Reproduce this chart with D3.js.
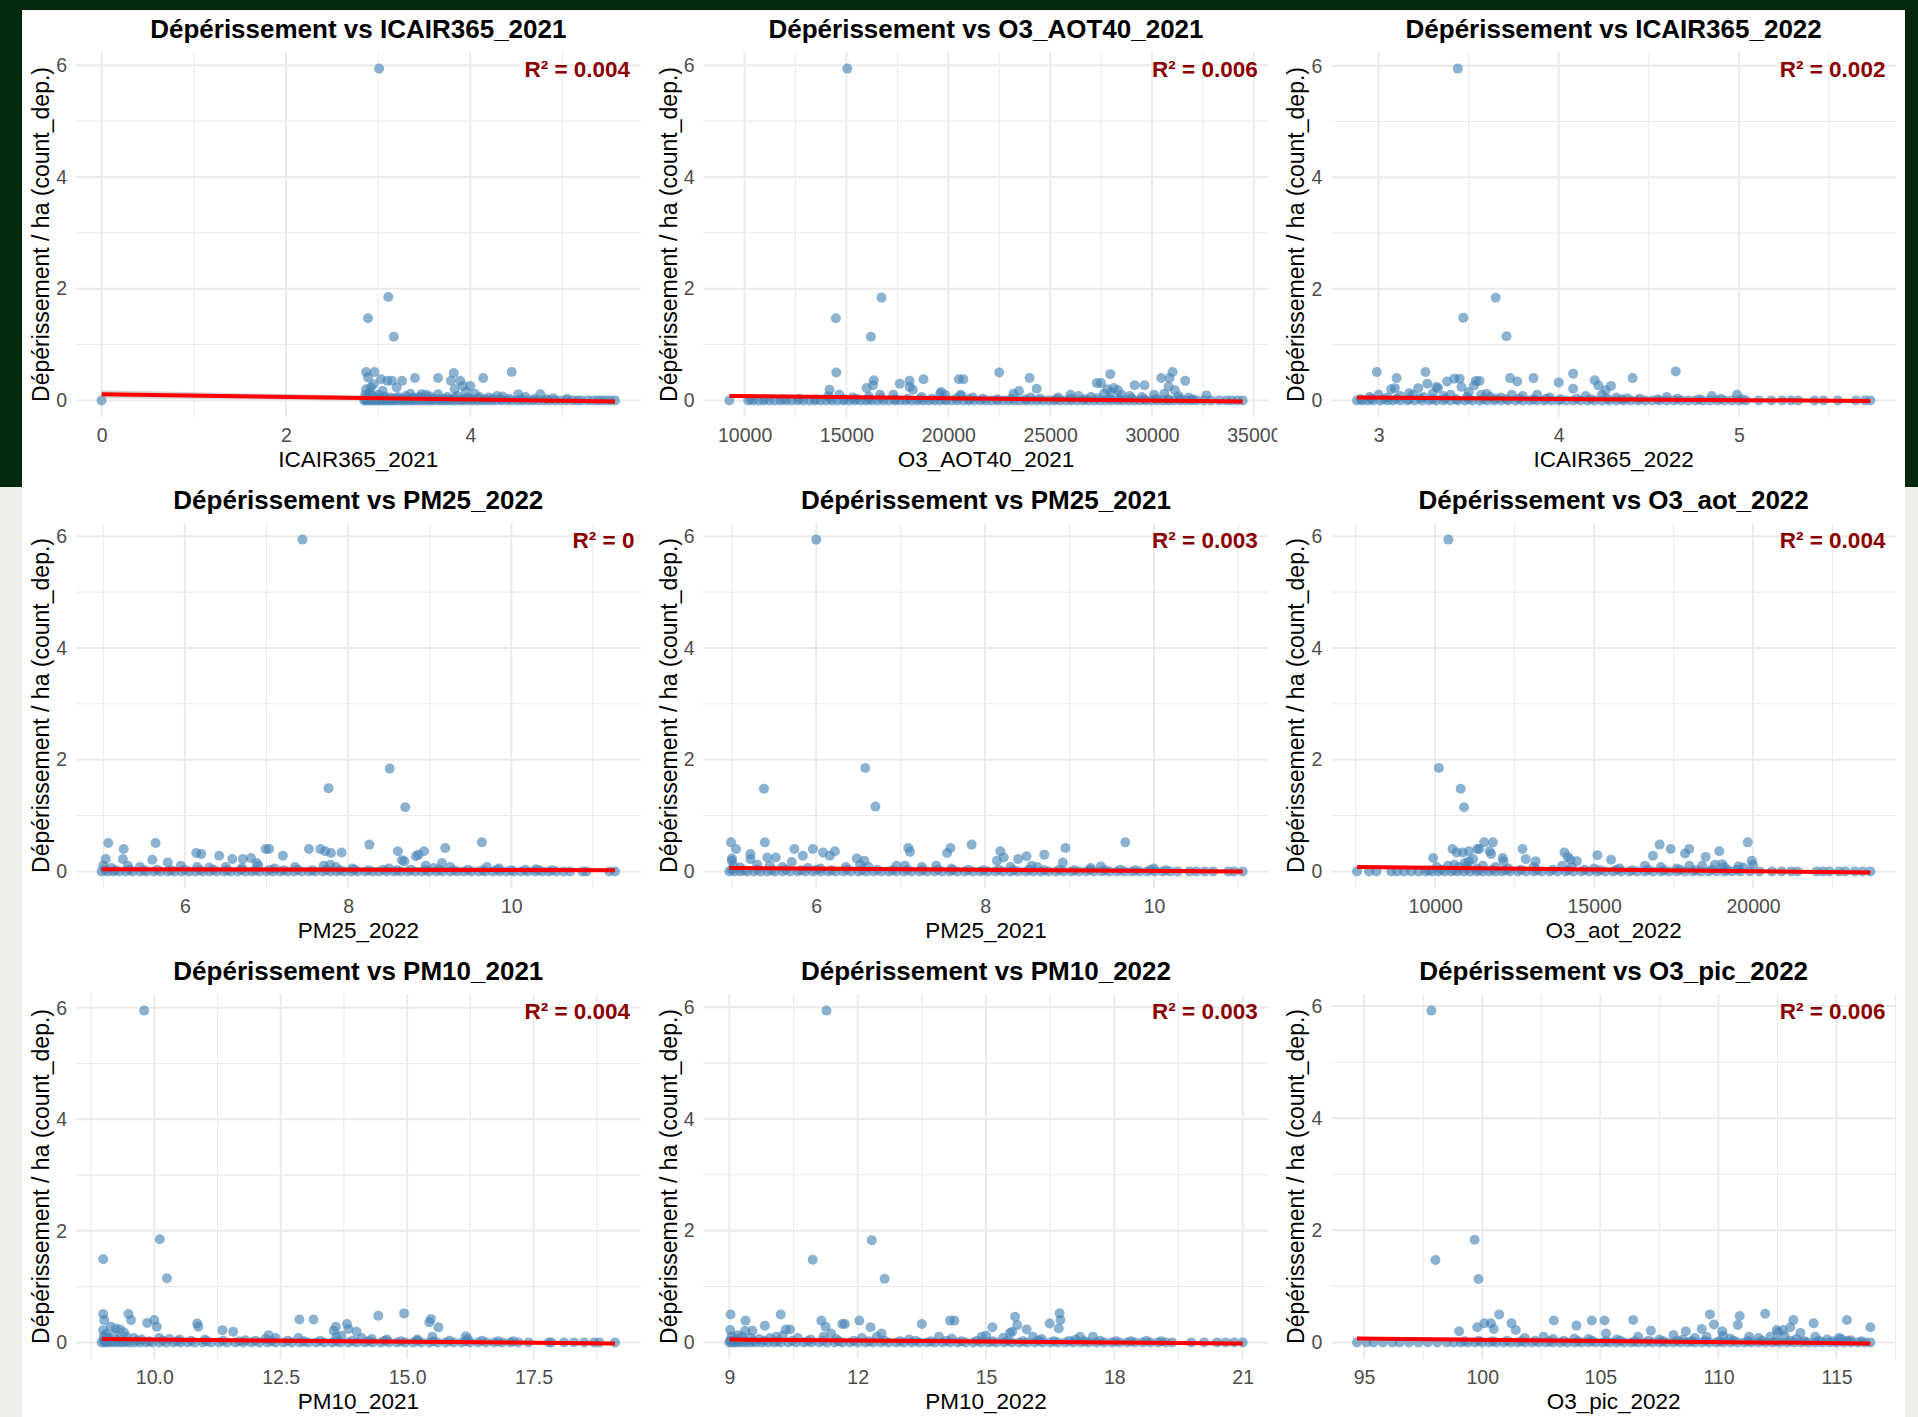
<!DOCTYPE html>
<html>
<head>
<meta charset="utf-8">
<script src="https://cdn.jsdelivr.net/npm/d3@7"></script>
<style>
  html, body { margin: 0; padding: 0; background: #f0eee9; }
  svg { display: block; }
  text { font-family: "Liberation Sans", Arial, Helvetica, sans-serif; }
</style>
</head>
<body>
<svg id="chart" width="1918" height="1417"></svg>
<script>
// ---- Panel variables (reading order, 3 x 3) ----
const variables = [
  "ICAIR365_2021", "O3_AOT40_2021", "ICAIR365_2022",
  "PM25_2022", "PM25_2021", "O3_aot_2022",
  "PM10_2021", "PM10_2022", "O3_pic_2022"
];
const r2Labels = ["0.004", "0.006", "0.002", "0", "0.003", "0.004", "0.004", "0.003", "0.006"];

const xTicks = [
  [0, 2, 4],
  [10000, 15000, 20000, 25000, 30000, 35000],
  [3, 4, 5],
  [6, 8, 10],
  [6, 8, 10],
  [10000, 15000, 20000],
  [10, 12.5, 15, 17.5],
  [9, 12, 15, 18, 21],
  [95, 100, 105, 110, 115]
];
const xTickLabels = [
  ["0", "2", "4"],
  ["10000", "15000", "20000", "25000", "30000", "35000"],
  ["3", "4", "5"],
  ["6", "8", "10"],
  ["6", "8", "10"],
  ["10000", "15000", "20000"],
  ["10.0", "12.5", "15.0", "17.5"],
  ["9", "12", "15", "18", "21"],
  ["95", "100", "105", "110", "115"]
];
const yTicks = [0, 2, 4, 6];

// Linear fit: fitted value at the lowest and highest x of each panel
const fitEnds = [
  [0.11, -0.02], [0.08, -0.02], [0.05, -0.01],
  [0.04, 0.02], [0.06, 0.0], [0.08, -0.02],
  [0.06, -0.02], [0.05, -0.02], [0.07, -0.02]
];
// Half-width of the confidence ribbon at both ends
const fitBand = [
  [0.07, 0.02], [0.03, 0.03], [0.03, 0.03],
  [0.03, 0.03], [0.03, 0.03], [0.03, 0.03],
  [0.03, 0.03], [0.03, 0.03], [0.03, 0.03]
];

// ---- Observations with count_dep > 0 : [x, dépérissement / ha] ----
const icair2021Pts = [[3.01,5.94],[3.11,1.85],[2.89,1.47],[3.17,1.14],[2.87,0.51],[2.96,0.51],[3.82,0.49],[4.45,0.51],[3.40,0.40],[3.65,0.40],[4.14,0.40],[2.89,0.41],[3.03,0.38],[3.10,0.35],[3.15,0.35],[3.26,0.35],[3.20,0.23],[3.79,0.35],[3.89,0.35],[3.92,0.26],[4.00,0.26],[3.83,0.20],[2.92,0.23],[2.91,0.14],[2.87,0.20],[3.65,0.11],[3.47,0.11],[4.29,0.08],[4.52,0.11],[4.76,0.11],[2.95,0.29],[3.05,0.17],[3.35,0.12],[3.95,0.15],[4.05,0.12],
  [2.86,0.1],[2.88,0.06],[2.93,0.08],[2.97,0.05],[3.0,0.1],[3.07,0.07],[3.13,0.05],[3.22,0.06],[3.3,0.08],[3.38,0.05],[3.45,0.06],[3.52,0.1],[3.56,0.07],[3.75,0.06],[3.86,0.08],[3.97,0.05],[4.1,0.06],[4.2,0.05],[4.35,0.07],[4.6,0.06],[4.9,0.04],[5.05,0.03]];
const aot40_2021Pts = [[15040,5.94],[16720,1.84],[14480,1.47],[16200,1.14],[14500,0.50],[22500,0.50],[31010,0.51],[27950,0.47],[18780,0.38],[20520,0.38],[20740,0.38],[23990,0.40],[30450,0.40],[30860,0.40],[31630,0.35],[16340,0.36],[16300,0.27],[17620,0.30],[18100,0.35],[18100,0.24],[18260,0.19],[14170,0.19],[15990,0.22],[24340,0.21],[23470,0.17],[27290,0.31],[27500,0.31],[29150,0.27],[29630,0.27],[30810,0.25],[31120,0.18],[27810,0.20],[28120,0.22],[28330,0.18],[32670,0.09],[19650,0.15],[20600,0.1],[23200,0.12],
  [14100,0.08],[14650,0.1],[15300,0.05],[16100,0.07],[16650,0.1],[17300,0.1],[18700,0.06],[19600,0.12],[19850,0.1],[20650,0.08],[21200,0.05],[24050,0.05],[25400,0.05],[26000,0.1],[26400,0.08],[27000,0.06],[27650,0.12],[28000,0.14],[28500,0.1],[28900,0.08],[29500,0.06],[30100,0.1],[30600,0.12],[31300,0.08],[31800,0.05]];
const icair2022Pts = [[3.44,5.95],[3.65,1.84],[3.47,1.48],[3.71,1.15],[2.99,0.51],[3.26,0.51],[4.65,0.52],[4.08,0.48],[3.10,0.40],[3.42,0.39],[3.45,0.39],[3.73,0.40],[3.86,0.40],[4.41,0.40],[4.00,0.32],[3.77,0.34],[3.54,0.35],[3.56,0.35],[3.38,0.34],[4.20,0.36],[4.22,0.27],[4.29,0.26],[3.27,0.30],[3.32,0.24],[3.33,0.22],[3.07,0.20],[3.09,0.22],[3.22,0.22],[4.08,0.21],[3.53,0.27],[3.46,0.24],[3.17,0.13],[4.26,0.18],[3.50,0.15],[3.60,0.12],
  [2.95,0.06],[3.0,0.1],[3.05,0.05],[3.12,0.08],[3.19,0.1],[3.25,0.06],[3.3,0.12],[3.36,0.08],[3.4,0.1],[3.49,0.06],[3.57,0.1],[3.62,0.06],[3.68,0.05],[3.74,0.1],[3.8,0.08],[3.88,0.1],[3.95,0.05],[4.15,0.08],[4.24,0.1],[4.32,0.05],[4.38,0.04],[4.6,0.06],[4.85,0.08],[4.99,0.1]];
const pm25_2022Pts = [[7.44,5.94],[8.51,1.84],[7.76,1.49],[8.70,1.15],[5.06,0.51],[5.64,0.51],[9.64,0.52],[8.26,0.48],[5.25,0.40],[6.99,0.40],[7.03,0.40],[7.52,0.40],[7.66,0.40],[9.19,0.42],[7.72,0.36],[7.79,0.33],[7.92,0.34],[8.61,0.36],[8.93,0.36],[8.86,0.30],[8.83,0.27],[6.14,0.33],[6.20,0.31],[6.42,0.28],[7.20,0.28],[6.58,0.22],[6.71,0.22],[6.81,0.24],[5.03,0.22],[5.24,0.22],[5.60,0.21],[5.79,0.16],[8.66,0.20],[8.69,0.18],[9.15,0.15],[6.88,0.15],
  [5.0,0.1],[5.1,0.06],[5.3,0.1],[5.45,0.08],[5.95,0.1],[6.15,0.08],[6.3,0.07],[6.5,0.08],[6.7,0.06],[6.9,0.1],[7.1,0.05],[7.35,0.08],[7.7,0.1],[7.78,0.12],[7.85,0.08],[8.05,0.05],[8.5,0.05],[8.95,0.1],[9.05,0.06],[9.25,0.08],[9.7,0.08],[9.85,0.05],[10.3,0.04]];
const pm25_2021Pts = [[6.00,5.94],[6.58,1.85],[5.38,1.48],[6.70,1.16],[4.99,0.52],[5.39,0.52],[9.66,0.52],[7.84,0.48],[5.05,0.40],[5.74,0.40],[5.96,0.40],[7.09,0.42],[7.11,0.35],[7.59,0.42],[7.55,0.33],[8.95,0.42],[8.18,0.36],[8.22,0.25],[6.08,0.34],[6.22,0.36],[6.16,0.28],[5.22,0.31],[5.22,0.22],[5.42,0.25],[5.52,0.25],[5.84,0.28],[8.70,0.30],[8.49,0.27],[8.39,0.22],[8.14,0.19],[6.48,0.23],[6.57,0.19],[5.71,0.17],[5.00,0.23],[5.00,0.19],[8.92,0.16],
  [5.02,0.1],[5.1,0.07],[5.3,0.12],[5.45,0.1],[5.6,0.08],[5.9,0.06],[6.05,0.05],[6.35,0.08],[6.52,0.12],[6.62,0.08],[6.95,0.1],[7.05,0.1],[7.25,0.08],[7.42,0.1],[7.6,0.05],[8.3,0.08],[8.55,0.1],[8.62,0.08],[9.25,0.06],[9.37,0.09],[10.0,0.05]];
const aot2022Pts = [[10415,5.94],[10117,1.85],[10803,1.48],[10907,1.15],[11541,0.52],[11813,0.52],[19832,0.52],[17060,0.48],[10544,0.40],[12746,0.40],[17409,0.40],[17992,0.40],[11321,0.40],[11386,0.40],[18938,0.36],[14067,0.34],[17863,0.32],[10674,0.34],[10868,0.34],[11062,0.36],[11710,0.36],[11760,0.31],[15104,0.29],[16852,0.28],[18510,0.26],[9935,0.24],[12850,0.22],[12124,0.24],[12150,0.18],[14170,0.26],[14260,0.21],[14456,0.18],[15531,0.21],[13161,0.18],[19960,0.19],[11192,0.22],[11062,0.18],[10933,0.15],[19028,0.13],[19546,0.09],
  [10050,0.08],[10400,0.1],[10600,0.12],[10750,0.08],[11000,0.1],[11300,0.05],[11500,0.1],[11900,0.08],[12300,0.05],[13100,0.08],[14000,0.1],[14300,0.08],[15000,0.05],[15800,0.05],[16600,0.1],[17100,0.08],[17600,0.05],[18000,0.1],[18400,0.1],[18800,0.12],[19100,0.08],[19700,0.07],[20000,0.12]];
const pm10_2021Pts = [[9.80,5.95],[10.11,1.85],[8.99,1.49],[10.25,1.15],[8.99,0.51],[9.49,0.51],[14.94,0.52],[14.43,0.48],[12.87,0.41],[13.15,0.41],[15.47,0.42],[15.44,0.36],[9.01,0.40],[9.54,0.40],[10.00,0.40],[9.86,0.35],[13.81,0.33],[13.84,0.24],[13.59,0.28],[15.62,0.27],[10.85,0.34],[10.87,0.28],[10.05,0.28],[9.14,0.28],[9.24,0.25],[9.32,0.23],[11.35,0.22],[11.56,0.19],[14.00,0.19],[13.55,0.21],[8.99,0.22],[12.26,0.13],[16.16,0.11],[9.05,0.15],[9.4,0.18],
  [9.0,0.1],[9.1,0.08],[9.2,0.12],[9.3,0.06],[9.45,0.1],[9.6,0.08],[9.75,0.05],[10.1,0.08],[10.3,0.06],[10.5,0.05],[11.0,0.05],[11.8,0.04],[12.2,0.06],[12.4,0.08],[12.85,0.08],[13.6,0.1],[13.7,0.12],[14.1,0.08],[14.3,0.06],[14.6,0.05],[15.2,0.05],[15.5,0.1],[16.2,0.06]];
const pm10_2022Pts = [[11.27,5.94],[12.33,1.83],[10.95,1.48],[12.63,1.14],[9.03,0.50],[10.20,0.50],[16.72,0.52],[15.68,0.46],[9.38,0.39],[11.15,0.39],[12.04,0.39],[14.16,0.39],[14.26,0.39],[16.74,0.40],[16.49,0.34],[13.50,0.33],[11.64,0.33],[11.70,0.33],[9.83,0.30],[11.25,0.28],[12.30,0.27],[15.15,0.27],[15.73,0.31],[16.70,0.25],[9.02,0.22],[9.37,0.21],[9.54,0.21],[10.32,0.23],[10.42,0.23],[11.38,0.16],[12.56,0.16],[15.56,0.17],[15.61,0.19],[15.95,0.23],[9.20,0.13],
  [9.05,0.1],[9.15,0.06],[9.3,0.1],[9.5,0.08],[9.7,0.06],[9.95,0.08],[10.1,0.1],[10.25,0.12],[10.6,0.08],[10.9,0.05],[11.2,0.1],[11.5,0.06],[12.1,0.08],[12.45,0.1],[13.2,0.05],[13.9,0.1],[14.2,0.07],[14.9,0.1],[15.0,0.12],[15.4,0.08],[16.1,0.1],[16.3,0.06],[17.2,0.1],[17.5,0.1],[17.1,0.05]];
const o3pic2022Pts = [[97.85,5.92],[99.68,1.83],[98.02,1.47],[99.84,1.13],[100.72,0.50],[109.64,0.50],[111.98,0.51],[110.90,0.47],[103.03,0.39],[104.64,0.39],[105.18,0.39],[106.39,0.40],[113.17,0.40],[115.44,0.40],[100.09,0.34],[100.37,0.34],[101.24,0.34],[114.03,0.34],[109.81,0.32],[99.79,0.27],[100.49,0.24],[101.42,0.22],[103.99,0.30],[110.82,0.31],[112.73,0.22],[112.52,0.18],[113.04,0.27],[116.43,0.27],[109.29,0.24],[107.14,0.21],[99.02,0.20],[108.62,0.20],[110.16,0.20],[105.24,0.16],[113.47,0.17],[108.10,0.13],[112.47,0.22],
  [101.8,0.08],[102.6,0.1],[103.0,0.06],[103.9,0.07],[104.5,0.06],[105.7,0.05],[106.6,0.1],[107.5,0.05],[108.5,0.05],[109.0,0.08],[109.5,0.1],[110.2,0.12],[110.5,0.07],[111.3,0.1],[111.7,0.08],[112.2,0.1],[112.8,0.12],[113.3,0.06],[114.1,0.1],[114.6,0.05],[115.1,0.08],[115.2,0.06],[115.6,0.04]];

// ---- Observations barely above zero (dense band) : [x, y] ----
const icair2021Near = [[2.86,0.02],[2.89,0.03],[2.94,0.02],[2.99,0.04],[3.04,0.02],[3.08,0.03],[3.14,0.02],[3.19,0.04],[3.24,0.02],[3.29,0.03],[3.34,0.02],[3.39,0.03],[3.44,0.02],[3.49,0.04],[3.55,0.02],[3.6,0.03],[3.66,0.02],[3.72,0.03],[3.78,0.02],[3.83,0.04],[3.9,0.02],[3.96,0.03],[4.02,0.02],[4.09,0.03],[4.16,0.02],[4.25,0.03],[4.33,0.02],[4.42,0.03],[4.55,0.02],[4.7,0.03],[4.83,0.02]];
const aot40_2021Near = [[10300,0.02],[11000,0.03],[11900,0.02],[12700,0.03],[13500,0.02],[14200,0.04],[14900,0.02],[15500,0.03],[16100,0.02],[16700,0.04],[17400,0.02],[18000,0.03],[18600,0.02],[19200,0.03],[19800,0.02],[20400,0.04],[21000,0.02],[21700,0.03],[22400,0.02],[23100,0.03],[23800,0.02],[24500,0.03],[25300,0.02],[26000,0.03],[26700,0.02],[27300,0.04],[27900,0.03],[28400,0.02],[29000,0.04],[29600,0.02],[30200,0.03],[30800,0.02],[31400,0.03],[32000,0.02]];
const icair2022Near = [[2.9,0.02],[2.96,0.03],[3.03,0.02],[3.1,0.03],[3.17,0.02],[3.23,0.04],[3.3,0.02],[3.37,0.03],[3.43,0.02],[3.5,0.03],[3.58,0.02],[3.65,0.03],[3.71,0.02],[3.78,0.03],[3.86,0.02],[3.93,0.03],[4.01,0.02],[4.1,0.03],[4.18,0.02],[4.27,0.03],[4.35,0.02],[4.45,0.03],[4.55,0.02],[4.66,0.03],[4.78,0.02],[4.9,0.03],[5.02,0.02]];
const pm25_2022Near = [[5.02,0.03],[5.15,0.02],[5.32,0.03],[5.5,0.02],[5.66,0.03],[5.83,0.02],[6.0,0.03],[6.18,0.02],[6.35,0.03],[6.52,0.02],[6.69,0.03],[6.86,0.02],[7.04,0.03],[7.21,0.02],[7.38,0.03],[7.56,0.02],[7.73,0.03],[7.9,0.02],[8.08,0.03],[8.25,0.02],[8.43,0.03],[8.6,0.02],[8.77,0.03],[8.95,0.02],[9.12,0.03],[9.3,0.02],[9.47,0.03],[9.65,0.02],[9.82,0.03],[10.0,0.02],[10.17,0.03],[10.34,0.02],[10.5,0.02]];
const pm25_2021Near = [[5.0,0.03],[5.14,0.02],[5.3,0.03],[5.47,0.02],[5.64,0.03],[5.82,0.02],[6.0,0.03],[6.18,0.02],[6.36,0.03],[6.54,0.02],[6.72,0.03],[6.9,0.02],[7.08,0.03],[7.26,0.02],[7.44,0.03],[7.62,0.02],[7.8,0.03],[7.98,0.02],[8.16,0.03],[8.34,0.02],[8.52,0.03],[8.7,0.02],[8.88,0.03],[9.06,0.02],[9.24,0.03],[9.42,0.02],[9.6,0.03],[9.78,0.02],[9.96,0.03],[10.14,0.02]];
const aot2022Near = [[9800,0.02],[10200,0.03],[10600,0.02],[11000,0.04],[11400,0.02],[11800,0.03],[12200,0.02],[12700,0.03],[13200,0.02],[13700,0.03],[14200,0.02],[14700,0.03],[15200,0.02],[15700,0.03],[16200,0.02],[16700,0.03],[17200,0.02],[17700,0.03],[18200,0.02],[18700,0.03],[19200,0.02],[19500,0.03]];
const pm10_2021Near = [[9.0,0.03],[9.12,0.02],[9.28,0.03],[9.45,0.02],[9.66,0.03],[9.9,0.02],[10.17,0.03],[10.45,0.02],[10.73,0.03],[11.04,0.02],[11.36,0.03],[11.68,0.02],[12.0,0.03],[12.32,0.02],[12.64,0.03],[12.96,0.02],[13.28,0.03],[13.6,0.02],[13.92,0.03],[14.24,0.02],[14.56,0.03],[14.88,0.02],[15.2,0.03],[15.52,0.02],[15.84,0.03],[16.16,0.02],[16.48,0.03],[16.8,0.02],[17.1,0.02]];
const pm10_2022Near = [[9.02,0.03],[9.17,0.02],[9.35,0.03],[9.56,0.02],[9.82,0.03],[10.12,0.02],[10.47,0.03],[10.83,0.02],[11.19,0.03],[11.55,0.02],[11.91,0.03],[12.27,0.02],[12.63,0.03],[12.99,0.02],[13.35,0.03],[13.71,0.02],[14.07,0.03],[14.43,0.02],[14.79,0.03],[15.15,0.02],[15.51,0.03],[15.87,0.02],[16.23,0.03],[16.59,0.02],[16.95,0.03],[17.31,0.02],[17.67,0.03],[18.03,0.02],[18.39,0.02],[18.75,0.03],[19.1,0.02]];
const o3pic2022Near = [[99.25,0.02],[99.85,0.03],[100.45,0.02],[101.05,0.03],[101.65,0.02],[102.25,0.03],[102.85,0.02],[103.45,0.03],[104.05,0.02],[104.65,0.03],[105.25,0.02],[105.85,0.03],[106.45,0.02],[107.05,0.03],[107.65,0.02],[108.25,0.03],[108.85,0.02],[109.45,0.03],[110.05,0.02],[110.65,0.03],[111.25,0.02],[111.85,0.03],[112.45,0.02],[113.05,0.03],[113.65,0.02],[114.25,0.03],[114.85,0.02],[115.45,0.03],[116.05,0.02]];

// ---- Observations with no dieback (y = 0): x values only ----
const icair2021Zero = [0,2.85,2.87,2.9,2.92,2.95,2.98,3.0,3.03,3.06,3.09,3.12,3.15,3.18,3.21,3.25,3.28,3.31,3.35,3.38,3.42,3.46,3.5,3.54,3.58,3.62,3.67,3.71,3.75,3.8,3.84,3.89,3.93,3.98,4.03,4.08,4.13,4.18,4.23,4.28,4.34,4.4,4.45,4.51,4.57,4.63,4.68,4.74,4.8,4.86,4.92,4.98,5.04,5.11,5.16,5.2,5.27,5.33,5.38,5.42,5.47,5.52,5.57];
const aot40_2021Zero = [9250,10180,10420,10690,10930,11210,11480,11760,12050,12310,12600,12880,13170,13430,13720,14000,14290,14560,14850,15130,15400,15690,15950,16240,16520,16810,17080,17370,17640,17920,18210,18480,18770,19040,19330,19600,19890,20170,20440,20730,21010,21280,21570,21850,22120,22410,22690,22960,23250,23520,23810,24090,24360,24650,24930,25200,25490,25770,26040,26330,26610,26880,27170,27450,27720,28010,28290,28560,28850,29130,29400,29690,29970,30240,30530,30810,31080,31370,31650,31920,32200,32550,32900,33300,33650,33900,34200,34450];
const icair2022Zero = [2.88,2.91,2.94,2.97,3.01,3.05,3.08,3.12,3.16,3.2,3.24,3.28,3.32,3.36,3.4,3.44,3.48,3.52,3.56,3.6,3.64,3.68,3.72,3.76,3.8,3.84,3.88,3.92,3.96,4.0,4.04,4.08,4.12,4.16,4.2,4.24,4.28,4.32,4.36,4.4,4.44,4.48,4.52,4.56,4.6,4.64,4.68,4.72,4.76,4.8,4.84,4.88,4.92,4.96,5.0,5.04,5.11,5.18,5.24,5.29,5.33,5.42,5.47,5.55,5.65,5.7,5.73];
const pm25_2022Zero = [4.98,5.05,5.12,5.2,5.28,5.36,5.45,5.53,5.62,5.7,5.79,5.87,5.96,6.05,6.13,6.22,6.3,6.39,6.48,6.56,6.65,6.74,6.82,6.91,7.0,7.08,7.17,7.26,7.34,7.43,7.52,7.6,7.69,7.78,7.86,7.95,8.04,8.12,8.21,8.3,8.38,8.47,8.56,8.64,8.73,8.82,8.9,8.99,9.08,9.16,9.25,9.34,9.42,9.51,9.6,9.68,9.77,9.86,9.94,10.03,10.12,10.2,10.29,10.38,10.46,10.55,10.64,10.72,10.87,10.92,11.2,11.27];
const pm25_2021Zero = [4.97,5.03,5.1,5.18,5.26,5.34,5.42,5.51,5.6,5.69,5.78,5.87,5.96,6.05,6.14,6.23,6.32,6.41,6.5,6.59,6.68,6.77,6.86,6.95,7.04,7.13,7.22,7.31,7.4,7.49,7.58,7.67,7.76,7.85,7.94,8.03,8.12,8.21,8.3,8.39,8.48,8.57,8.66,8.75,8.84,8.93,9.02,9.11,9.2,9.29,9.38,9.47,9.56,9.65,9.74,9.83,9.92,10.01,10.1,10.19,10.28,10.42,10.5,10.6,10.7,10.88,10.95,11.05];
const aot2022Zero = [7540,7920,8150,8620,8800,9020,9250,9480,9700,9900,10100,10300,10500,10700,10900,11100,11300,11500,11700,11900,12100,12350,12600,12850,13100,13350,13600,13850,14100,14350,14600,14850,15100,15350,15600,15850,16100,16350,16600,16850,17100,17350,17600,17850,18100,18350,18600,18850,19100,19350,19600,19900,20200,20600,20900,21200,21400,22000,22200,22400,22700,22900,23200,23450,23690];
const pm10_2021Zero = [8.96,9.02,9.08,9.16,9.24,9.32,9.4,9.5,9.6,9.72,9.84,9.96,10.1,10.24,10.38,10.52,10.66,10.8,10.96,11.12,11.28,11.44,11.6,11.76,11.92,12.08,12.24,12.4,12.56,12.72,12.88,13.04,13.2,13.36,13.52,13.68,13.84,14.0,14.16,14.32,14.48,14.64,14.8,14.96,15.12,15.28,15.44,15.6,15.76,15.92,16.08,16.24,16.4,16.56,16.72,16.88,17.04,17.2,17.4,17.8,17.85,18.1,18.3,18.5,18.7,18.8,19.11];
const pm10_2022Zero = [9.0,9.06,9.13,9.21,9.3,9.4,9.5,9.62,9.75,9.9,10.05,10.2,10.38,10.56,10.74,10.92,11.1,11.28,11.46,11.64,11.82,12.0,12.18,12.36,12.54,12.72,12.9,13.08,13.26,13.44,13.62,13.8,13.98,14.16,14.34,14.52,14.7,14.88,15.06,15.24,15.42,15.6,15.78,15.96,16.14,16.32,16.5,16.68,16.86,17.04,17.22,17.4,17.58,17.76,17.94,18.12,18.3,18.48,18.66,18.84,19.02,19.2,19.35,19.8,20.1,20.4,20.6,20.8,21.0];
const o3pic2022Zero = [94.7,95.1,95.4,95.8,96.2,96.5,96.9,97.3,97.7,98.1,98.5,98.8,99.1,99.4,99.7,100.0,100.3,100.6,100.9,101.2,101.5,101.8,102.1,102.4,102.7,103.0,103.3,103.6,103.9,104.2,104.5,104.8,105.1,105.4,105.7,106.0,106.3,106.6,106.9,107.2,107.5,107.8,108.1,108.4,108.7,109.0,109.3,109.6,109.9,110.2,110.5,110.8,111.1,111.4,111.7,112.0,112.3,112.6,112.9,113.2,113.5,113.8,114.1,114.4,114.7,115.0,115.3,115.6,115.9,116.2,116.43];

const pointsByPanel = [icair2021Pts, aot40_2021Pts, icair2022Pts, pm25_2022Pts, pm25_2021Pts, aot2022Pts, pm10_2021Pts, pm10_2022Pts, o3pic2022Pts];
const nearByPanel = [icair2021Near, aot40_2021Near, icair2022Near, pm25_2022Near, pm25_2021Near, aot2022Near, pm10_2021Near, pm10_2022Near, o3pic2022Near];
const zerosByPanel = [icair2021Zero, aot40_2021Zero, icair2022Zero, pm25_2022Zero, pm25_2021Zero, aot2022Zero, pm10_2021Zero, pm10_2022Zero, o3pic2022Zero];

// ---- Layout ----
const W = 1918, H = 1417;
const svg = d3.select("#chart");

svg.append("rect").attr("x", 0).attr("y", 0).attr("width", W).attr("height", 487).attr("fill", "#01290a");

const fig = { x: 22, y: 10, w: 1883, h: 1413 };
svg.append("rect").attr("x", fig.x).attr("y", fig.y).attr("width", fig.w).attr("height", H - fig.y).attr("fill", "#ffffff");

const cellW = fig.w / 3, cellH = 471;
const defs = svg.append("defs");

const expand = (ext) => { const p = (ext[1] - ext[0]) * 0.05; return [ext[0] - p, ext[1] + p]; };

variables.forEach((v, i) => {
  const col = i % 3, row = Math.floor(i / 3);
  const cx = fig.x + col * cellW, cy = fig.y + row * cellH;

  defs.append("clipPath").attr("id", "cell" + i)
    .append("rect").attr("x", cx).attr("y", cy).attr("width", cellW).attr("height", cellH);
  const g = svg.append("g").attr("clip-path", `url(#cell${i})`);

  const pl = cx + 54, pr = cx + cellW - 9, pt = cy + 42, pb = cy + 407;

  const data = pointsByPanel[i]
    .concat(nearByPanel[i])
    .concat(zerosByPanel[i].map(xv => [xv, 0]));
  const xExt = d3.extent(data, d => d[0]);
  const yExt = d3.extent(data, d => d[1]);

  const x = d3.scaleLinear().domain(expand(xExt)).range([pl, pr]);
  const y = d3.scaleLinear().domain(expand(yExt)).range([pb, pt]);

  // grid: minor breaks halfway between major breaks
  const minorOf = (ticks, dom) => {
    const s = ticks[1] - ticks[0];
    const m = [ticks[0] - s / 2].concat(ticks.map(t => t + s / 2));
    return m.filter(t => t >= dom[0] && t <= dom[1]);
  };
  const xMinor = minorOf(xTicks[i], x.domain());
  const yMinor = minorOf(yTicks, y.domain());

  const grid = g.append("g");
  grid.selectAll(".vminor").data(xMinor).join("line")
    .attr("x1", d => x(d)).attr("x2", d => x(d)).attr("y1", pt).attr("y2", pb)
    .attr("stroke", "#ebebeb").attr("stroke-width", 1.1);
  grid.selectAll(".hminor").data(yMinor).join("line")
    .attr("x1", pl).attr("x2", pr).attr("y1", d => y(d)).attr("y2", d => y(d))
    .attr("stroke", "#ebebeb").attr("stroke-width", 1.1);
  grid.selectAll(".vmajor").data(xTicks[i]).join("line")
    .attr("x1", d => x(d)).attr("x2", d => x(d)).attr("y1", pt).attr("y2", pb)
    .attr("stroke", "#ebebeb").attr("stroke-width", 2);
  grid.selectAll(".hmajor").data(yTicks).join("line")
    .attr("x1", pl).attr("x2", pr).attr("y1", d => y(d)).attr("y2", d => y(d))
    .attr("stroke", "#ebebeb").attr("stroke-width", 2);

  // points
  g.append("g").selectAll("circle").data(data).join("circle")
    .attr("cx", d => x(d[0])).attr("cy", d => y(d[1])).attr("r", 5)
    .attr("fill", "#4682b4").attr("fill-opacity", 0.62);

  // linear fit with confidence ribbon
  const fit = [
    { x: xExt[0], y: fitEnds[i][0], se: fitBand[i][0] },
    { x: xExt[1], y: fitEnds[i][1], se: fitBand[i][1] }
  ];
  g.append("path").datum(fit)
    .attr("d", d3.area().x(d => x(d.x)).y0(d => y(d.y - d.se)).y1(d => y(d.y + d.se)))
    .attr("fill", "#999999").attr("fill-opacity", 0.4);
  g.append("path").datum(fit)
    .attr("d", d3.line().x(d => x(d.x)).y(d => y(d.y)))
    .attr("stroke", "#ff0000").attr("stroke-width", 4).attr("fill", "none");

  // axes
  const xAxis = g.append("g").attr("transform", `translate(0,${pb})`)
    .call(d3.axisBottom(x).tickValues(xTicks[i]).tickFormat((d, j) => xTickLabels[i][j]).tickSize(0).tickPadding(11));
  const yAxis = g.append("g").attr("transform", `translate(${pl},0)`)
    .call(d3.axisLeft(y).tickValues(yTicks).tickFormat(d3.format("d")).tickSize(0).tickPadding(9));
  [xAxis, yAxis].forEach(a => {
    a.select(".domain").remove();
    a.selectAll("text").attr("fill", "#4d4d4d").style("font-size", "19.5px")
      .style("font-family", '"Liberation Sans", Arial, sans-serif');
  });

  // axis titles
  g.append("text").attr("x", (pl + pr) / 2).attr("y", cy + 457)
    .attr("text-anchor", "middle").attr("fill", "#000").style("font-size", "22.5px").text(v);
  g.append("text").attr("transform", `translate(${cx + 27},${(pt + pb) / 2}) rotate(-90)`)
    .attr("text-anchor", "middle").attr("fill", "#000").style("font-size", "23px")
    .text("Dépérissement / ha (count_dep.)");

  // panel title
  g.append("text").attr("x", (pl + pr) / 2).attr("y", cy + 28)
    .attr("text-anchor", "middle").attr("fill", "#000").style("font-size", "26px").style("font-weight", "bold")
    .text("Dépérissement vs " + v);

  // R² annotation, right-aligned in the top corner
  const lab = g.append("text").attr("y", pt + 25).attr("text-anchor", "end")
    .attr("fill", "#8b0000").style("font-size", "22.5px").style("font-weight", "bold")
    .text("R² = " + r2Labels[i]);
  const lw = lab.node().getComputedTextLength();
  lab.attr("x", pr - 0.1 * lw);
});
</script>
</body>
</html>
